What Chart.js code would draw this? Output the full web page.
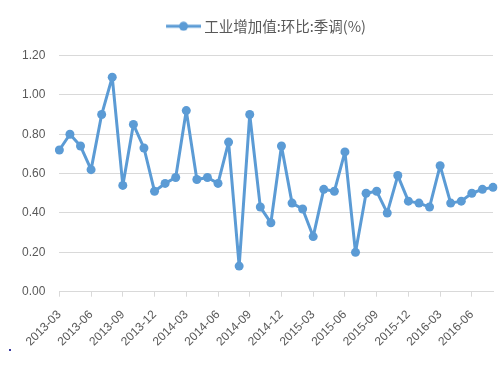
<!DOCTYPE html>
<html>
<head>
<meta charset="utf-8">
<script src="https://cdn.jsdelivr.net/npm/chart.js@4.4.0/dist/chart.umd.min.js"></script>
<style>
  html, body { margin: 0; padding: 0; background: #fff; }
  #wrap { position: relative; width: 501px; height: 366px; }
  #dot { position: absolute; left: 9px; top: 349px; width: 2px; height: 2px; background: #3a3aa0; }
</style>
</head>
<body>
<div id="wrap">
  <canvas id="chart" width="501" height="366"></canvas>
  <div id="dot"></div>
</div>
<script>
const seriesName = '工业增加值:环比:季调(%)';

const months = [
  '2013-03', '2013-04', '2013-05', '2013-06', '2013-07', '2013-08', '2013-09', '2013-10', '2013-11', '2013-12',
  '2014-01', '2014-02', '2014-03', '2014-04', '2014-05', '2014-06', '2014-07', '2014-08', '2014-09', '2014-10',
  '2014-11', '2014-12', '2015-01', '2015-02', '2015-03', '2015-04', '2015-05', '2015-06', '2015-07', '2015-08',
  '2015-09', '2015-10', '2015-11', '2015-12', '2016-01', '2016-02', '2016-03', '2016-04', '2016-05', '2016-06',
  '2016-07', '2016-08'
];

const values = [
  0.72, 0.80, 0.74, 0.62, 0.90, 1.09, 0.54, 0.85, 0.73, 0.51,
  0.55, 0.58, 0.92, 0.57, 0.58, 0.55, 0.76, 0.13, 0.90, 0.43,
  0.35, 0.74, 0.45, 0.42, 0.28, 0.52, 0.51, 0.71, 0.20, 0.50,
  0.51, 0.40, 0.59, 0.46, 0.45, 0.43, 0.64, 0.45, 0.46, 0.50,
  0.52, 0.53
];

const yTicks = [0, 0.2, 0.4, 0.6, 0.8, 1.0, 1.2];

const blue = '#5b9bd5';
const grey = '#595959';
const gridGrey = '#d9d9d9';

// legend marker: line with a dot, a bit wider than its box so it sits close to the text
function legendMarker() {
  const c = document.createElement('canvas');
  c.width = 36;
  c.height = 10;
  const g = c.getContext('2d');
  g.strokeStyle = blue;
  g.lineWidth = 3;
  g.beginPath();
  g.moveTo(1, 5);
  g.lineTo(36, 5);
  g.stroke();
  g.fillStyle = blue;
  g.beginPath();
  g.arc(18.5, 5, 4.5, 0, Math.PI * 2);
  g.fill();
  return c;
}

const legendTweak = {
  id: 'legendTweak',
  beforeInit(chart) {
    const fit = chart.legend.fit;
    chart.legend.fit = function () {
      fit.call(this);
      this.height += 12;
    };
  },
  afterLayout(chart) {
    chart.legend.left += 17;
    chart.legend.right += 17;
  }
};

const ctx = document.getElementById('chart');
new Chart(ctx, {
  type: 'line',
  data: {
    labels: months,
    datasets: [{
      label: seriesName,
      data: values,
      borderColor: blue,
      backgroundColor: blue,
      borderWidth: 3,
      borderJoinStyle: 'round',
      borderCapStyle: 'round',
      pointRadius: 4.5,
      pointHoverRadius: 4.5,
      pointBackgroundColor: blue,
      pointBorderWidth: 0,
      tension: 0
    }]
  },
  plugins: [legendTweak],
  options: {
    responsive: false,
    animation: false,
    layout: { padding: { left: 8, right: 8, top: 1, bottom: 6 } },
    plugins: {
      legend: {
        display: true,
        position: 'top',
        labels: {
          usePointStyle: true,
          pointStyle: legendMarker(),
          pointStyleWidth: 28,
          boxHeight: 10,
          color: grey,
          font: { family: '"Noto Sans CJK SC", "Liberation Sans", sans-serif', size: 14.5 },
          padding: 18
        }
      },
      tooltip: { enabled: false }
    },
    scales: {
      x: {
        offset: false,
        afterFit: (s) => { s.paddingRight = 0; },
        grid: {
          drawOnChartArea: false,
          drawTicks: true,
          tickLength: 5,
          color: (c) => (c.index % 3 === 0 ? gridGrey : 'rgba(0,0,0,0)')
        },
        border: { display: true, color: gridGrey, width: 1 },
        ticks: {
          autoSkip: false,
          minRotation: 45,
          maxRotation: 45,
          color: grey,
          padding: 11,
          font: { family: '"Liberation Sans", sans-serif', size: 12 },
          callback: function (v, i) { return i % 3 === 0 ? months[i] : ''; }
        }
      },
      y: {
        min: 0,
        max: 1.2,
        afterBuildTicks: (axis) => { axis.ticks = yTicks.map(v => ({ value: v })); },
        grid: { color: gridGrey, drawTicks: false, lineWidth: 1 },
        border: { display: false },
        ticks: {
          color: grey,
          padding: 14,
          font: { family: '"Liberation Sans", sans-serif', size: 12 },
          callback: (v) => Number(v).toFixed(2)
        }
      }
    }
  }
});
</script>
</body>
</html>
